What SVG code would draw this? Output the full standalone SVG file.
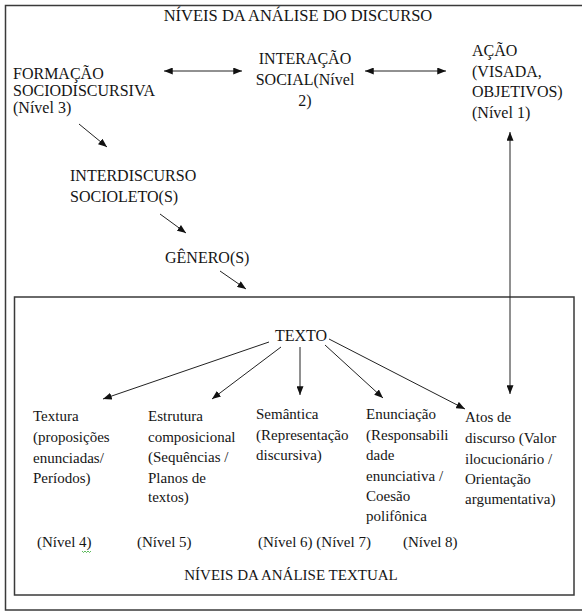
<svg xmlns="http://www.w3.org/2000/svg" width="582" height="612" viewBox="0 0 582 612">
<defs>
<marker id="ah" viewBox="0 0 10 8" refX="10" refY="4" markerWidth="9" markerHeight="7" orient="auto-start-reverse" markerUnits="userSpaceOnUse"><path d="M0,0 L10,4 L0,8 z" fill="#111"/></marker>
<style>
text{font-family:"Liberation Serif","Times New Roman",serif;fill:#151515}
.t{font-size:16px}
.b{font-size:15px}
.c{text-anchor:middle}
.frame{fill:none;stroke:#3a3a3a;stroke-width:1.5}
.ln{stroke:#222;stroke-width:1;fill:none;marker-end:url(#ah)}
.dbl{marker-start:url(#ah)}
</style>
</defs>
<rect id="outer-frame" class="frame" x="5.5" y="5.5" width="600" height="604.5"/>
<rect id="inner-frame" class="frame" x="14.5" y="297" width="559.5" height="298"/>
<g id="title"><text class="t c" x="298" y="21" style="font-size:16.5px">NÍVEIS DA ANÁLISE DO DISCURSO</text></g>
<g id="formacao"><text class="t" x="13" y="79"><tspan x="13">FORMAÇÃO</tspan><tspan x="13" dy="17">SOCIODISCURSIVA</tspan><tspan x="13" dy="17">(Nível 3)</tspan></text></g>
<g id="interacao"><text class="t c" x="305" y="64"><tspan x="305">INTERAÇÃO</tspan><tspan x="305" dy="21">SOCIAL(Nível</tspan><tspan x="305" dy="21">2)</tspan></text></g>
<g id="acao"><text class="t" x="472" y="56"><tspan x="472">AÇÃO</tspan><tspan x="472" dy="20.5">(VISADA,</tspan><tspan x="472" dy="20.5">OBJETIVOS)</tspan><tspan x="472" dy="20.5">(Nível 1)</tspan></text></g>
<g id="interdiscurso"><text class="t" x="70" y="181"><tspan x="70">INTERDISCURSO</tspan><tspan x="70" dy="21">SOCIOLETO(S)</tspan></text></g>
<g id="genero"><text class="t" x="165" y="263">GÊNERO(S)</text></g>
<g id="texto"><text class="t" x="275" y="341">TEXTO</text></g>
<g id="textura"><text class="b" x="33" y="421"><tspan x="33">Textura</tspan><tspan x="33" dy="20.8">(proposições</tspan><tspan x="33" dy="20.8">enunciadas/</tspan><tspan x="33" dy="20.8">Períodos)</tspan></text></g>
<g id="estrutura"><text class="b" x="148" y="421"><tspan x="148">Estrutura</tspan><tspan x="148" dy="20.5">composicional</tspan><tspan x="148" dy="20.5">(Sequências /</tspan><tspan x="148" dy="20.5">Planos de</tspan><tspan x="148" dy="19.5">textos)</tspan></text></g>
<g id="semantica"><text class="b" x="256" y="419"><tspan x="256">Semântica</tspan><tspan x="256" dy="20.6">(Representação</tspan><tspan x="256" dy="20.6">discursiva)</tspan></text></g>
<g id="enunciacao"><text class="b" x="366" y="419"><tspan x="366">Enunciação</tspan><tspan x="366" dy="20.6">(Responsabili</tspan><tspan x="366" dy="20.6">dade</tspan><tspan x="366" dy="20.6">enunciativa /</tspan><tspan x="366" dy="20">Coesão</tspan><tspan x="366" dy="20">polifônica</tspan></text></g>
<g id="atos"><text class="b" x="465" y="422"><tspan x="465">Atos de</tspan><tspan x="465" dy="20.8">discurso (Valor</tspan><tspan x="465" dy="20.8">ilocucionário /</tspan><tspan x="465" dy="20.8">Orientação</tspan><tspan x="465" dy="19.5">argumentativa)</tspan></text></g>
<g id="niveis-row"><text class="b" x="37" y="547">(Nível 4)</text><text class="b" x="137" y="547">(Nível 5)</text><text class="b" x="258" y="547">(Nível 6) (Nível 7)</text><text class="b" x="403" y="547">(Nível 8)</text>
<path d="M82,551 l1.5,1.5 l1.5,-1.5 l1.5,1.5 l1.5,-1.5 l1.5,1.5 l1.5,-1.5" fill="none" stroke="#3a3" stroke-width="0.8"/></g>
<g id="subtitle"><text class="b c" x="291" y="580">NÍVEIS DA ANÁLISE TEXTUAL</text></g>
<g id="connectors">
<line class="ln dbl" x1="164" y1="71" x2="242" y2="71"/>
<line class="ln dbl" x1="365" y1="71" x2="446" y2="71"/>
<line class="ln dbl" x1="510" y1="132" x2="510" y2="394"/>
<line class="ln" x1="79" y1="124" x2="107" y2="147"/>
<line class="ln" x1="160" y1="214" x2="186" y2="233"/>
<line class="ln" x1="220" y1="271" x2="246" y2="289"/>
<line class="ln" x1="269" y1="342" x2="103" y2="399"/>
<line class="ln" x1="281" y1="347" x2="212" y2="399"/>
<line class="ln" x1="300" y1="347" x2="300" y2="395"/>
<line class="ln" x1="325" y1="345" x2="383" y2="398"/>
<line class="ln" x1="329" y1="339" x2="465" y2="409"/>
</g>
</svg>
